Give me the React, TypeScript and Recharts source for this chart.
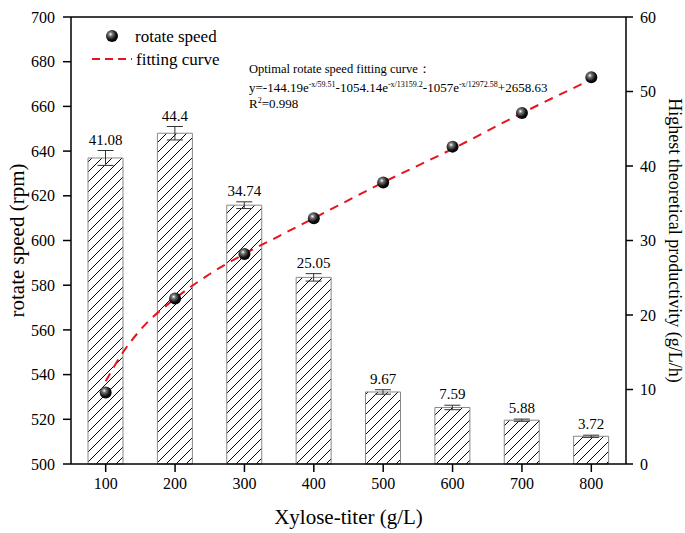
import { Bar, ComposedChart, Customized, ErrorBar, LabelList, Line, ReferenceLine, Scatter, XAxis, YAxis } from "recharts"

const titers = [100, 200, 300, 400, 500, 600, 700, 800]
const productivity = [41.08, 44.4, 34.74, 25.05, 9.67, 7.59, 5.88, 3.72]
const productivityErr = [1.0, 0.9, 0.45, 0.5, 0.3, 0.3, 0.15, 0.15]
const rotateSpeed = [532, 574, 594, 610, 626, 642, 657, 673]
const fitTiters = [100, 125, 150, 200, 250, 300, 350, 400, 500, 600, 700, 800]
const fitSpeed = [537, 550, 560, 574, 585, 594, 602, 610, 626, 641, 657, 672]
const leftTicks = [500, 520, 540, 560, 580, 600, 620, 640, 660, 680, 700]
const rightTicks = [0, 10, 20, 30, 40, 50, 60]

const barRows = titers.map((x, i) => ({ x, prod: productivity[i], err: productivityErr[i] }))
const speedRows = titers.map((x, i) => ({ x, speed: rotateSpeed[i] }))
const fitRows = fitTiters.map((x, i) => ({ x, fit: fitSpeed[i] }))

const font = "'Liberation Serif', 'Times New Roman', serif"
const tick = { fontFamily: font, fontSize: 16, fill: "#000" }

function Defs() {
  return (
    <defs>
      <pattern id="hatch" patternUnits="userSpaceOnUse" width="10" height="10">
        <path d="M-2,12 L12,-2 M-2,2 L2,-2 M8,12 L12,8" stroke="#000" strokeWidth="1" />
      </pattern>
      <radialGradient id="sphere" cx="38%" cy="35%" r="65%">
        <stop offset="0%" stopColor="#fff" />
        <stop offset="25%" stopColor="#777" />
        <stop offset="70%" stopColor="#111" />
        <stop offset="100%" stopColor="#000" />
      </radialGradient>
    </defs>
  )
}

// equation block and legend, drawn in the svg so they take no layout space
function Notes() {
  return (
    <g fontFamily={font} fill="#000">
      <circle cx={112} cy={36} r={6} fill="url(#sphere)" />
      <text x={135} y={42} fontSize={17}>rotate speed</text>
      <line x1={92} x2={132} y1={59} y2={59} stroke="#e8141c" strokeWidth={2} strokeDasharray="8 5" />
      <text x={136} y={65} fontSize={17}>fitting curve</text>

      <text x={249} y={73} fontSize={12.5}>Optimal rotate speed fitting curve：</text>
      <text x={249} y={92} fontSize={13}>
        y=-144.19e<tspan fontSize={8} dy={-5}>-x/59.51</tspan>
        <tspan dy={5}>-1054.14e</tspan>
        <tspan fontSize={8} dy={-5}>-x/13159.2</tspan>
        <tspan dy={5}>-1057e</tspan>
        <tspan fontSize={8} dy={-5}>-x/12972.58</tspan>
        <tspan dy={5}>+2658.63</tspan>
      </text>
      <text x={249} y={108} fontSize={13}>
        R<tspan fontSize={8} dy={-5}>2</tspan>
        <tspan dy={5}>=0.998</tspan>
      </text>
    </g>
  )
}

function Sphere(props: any) {
  return <circle cx={props.cx} cy={props.cy} r={6} fill="url(#sphere)" />
}

function BarLabel(props: any) {
  const { x, y, width, index, value } = props
  const off = productivityErr[index] * (447 / 60) + 6
  return (
    <text x={x + width / 2} y={y - off} textAnchor="middle" fontFamily={font} fontSize={15} fill="#000">
      {value}
    </text>
  )
}

export default function App() {
  return (
    <div style={{ position: "absolute", left: 0, top: 0 }}>
      <ComposedChart width={685} height={533} data={barRows} margin={{ top: 17, right: 0, left: 0, bottom: 0 }}>
        <Customized component={Defs} />
        <XAxis
          dataKey="x"
          type="number"
          domain={[50, 850]}
          ticks={titers}
          height={69}
          tick={tick}
          tickSize={8}
          tickMargin={6}
          stroke="#000"
          strokeWidth={1.5}
          label={{ value: "Xylose-titer (g/L)", position: "insideBottom", offset: 9, fontFamily: font, fontSize: 21, fill: "#000" }}
        />
        <XAxis xAxisId="fit" dataKey="x" type="number" domain={[50, 850]} hide />
        <YAxis
          yAxisId="left"
          domain={[500, 700]}
          ticks={leftTicks}
          width={71}
          tick={tick}
          tickSize={8}
          tickMargin={8}
          stroke="#000"
          strokeWidth={1.5}
          label={{ value: "rotate speed (rpm)", angle: -90, position: "insideLeft", offset: 17, style: { textAnchor: "middle" }, fontFamily: font, fontSize: 21, fill: "#000" }}
        />
        <YAxis
          yAxisId="right"
          orientation="right"
          domain={[0, 60]}
          ticks={rightTicks}
          width={59}
          tick={tick}
          tickSize={7}
          tickMargin={7}
          stroke="#000"
          strokeWidth={1.5}
          label={{ value: "Highest theoretical productivity (g/L/h)", angle: 90, position: "insideRight", offset: 10, style: { textAnchor: "middle" }, fontFamily: font, fontSize: 18, fill: "#000" }}
        />
        <ReferenceLine yAxisId="left" y={700} stroke="#000" strokeWidth={1.5} />
        <Bar yAxisId="right" dataKey="prod" barSize={35} fill="url(#hatch)" stroke="#888" strokeWidth={1} isAnimationActive={false}>
          <ErrorBar dataKey="err" width={8} stroke="#333" strokeWidth={1} />
          <LabelList dataKey="prod" content={BarLabel} />
        </Bar>
        <Line
          xAxisId="fit"
          yAxisId="left"
          data={fitRows}
          dataKey="fit"
          type="monotone"
          stroke="#e8141c"
          strokeWidth={2}
          strokeDasharray="9 7"
          dot={false}
          activeDot={false}
          isAnimationActive={false}
        />
        <Scatter yAxisId="left" data={speedRows} dataKey="speed" shape={Sphere} isAnimationActive={false} />
        <Customized component={Notes} />
      </ComposedChart>
    </div>
  )
}
